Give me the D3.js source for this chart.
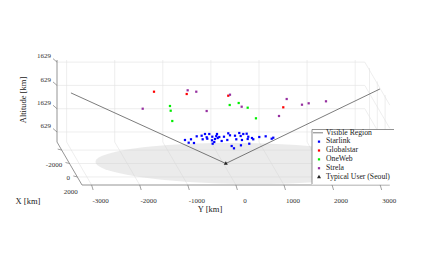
<!DOCTYPE html>
<html>
<head>
<meta charset="utf-8">
<script src="https://cdn.jsdelivr.net/npm/d3@7"></script>
<style>
  body { margin: 0; background: #fff; }
  svg { display: block; font-family: "Liberation Serif", "Times New Roman", serif; }
</style>
</head>
<body>
<svg id="chart" width="436" height="255"></svg>
<script>
// axis ticks
const xTicks = [-2000, 0, 2000];
const yTicks = [-3000, -2000, -1000, 0, 1000, 2000, 3000];
const zTicks = [629, 1629, 2629, 3629];
const zTickLabels = ["629", "1629", "629", "1629"];

// satellites, [Y km, altitude km]
const starlink = [
    [-383, 1466], [-294, 1466], [-133, 1466], [101, 1496], [330, 1509], [413, 1466], [484, 1479],
    [-555, 1367], [-452, 1393], [-348, 1325], [-231, 1350], [-148, 1380], [-86, 1337], [12, 1350],
    [137, 1410], [241, 1393], [359, 1380], [517, 1350], [594, 1294], [746, 1337], [879, 1367],
    [-799, 1209], [-674, 1239], [-431, 1239], [-335, 1264], [-237, 1196], [-175, 1252], [-119, 1294],
    [81, 1209], [268, 1239], [386, 1209], [505, 1252], [621, 1239], [1004, 1264], [1037, 1307],
    [-722, 1093], [-612, 1080], [-223, 1050], [-36, 1166], [538, 1050], [365, 981], [172, 951],
    [220, 852], [-190, 1123]
];
const globalstar = [[-1443, 3282], [-763, 3183], [101, 3110], [1245, 2612]];
const oneweb = [
    [-1111, 2668], [-1096, 2466], [-1063, 2024], [131, 2711], [318, 2797], [505, 2595], [677, 2140]
];
const strela = [
    [-1678, 2552], [-743, 3342], [-564, 3282], [-348, 2453], [137, 3153], [380, 2638],
    [1316, 2968], [1156, 2239], [1634, 2724], [1773, 2784], [2133, 2870]
];
const user = [[50, 200]];
const visibleRegion = [[-3170, 3230], [50, 200], [3255, 3400]];
const coverageCenter = [400, 200];
const coverageRadius = 3050;

const xLim = [-3200, 3200];
const yLim = [-3200, 3200];
const zLim = [200, 3720];

const svg = d3.select("#chart");

const yScale = d3.scaleLinear().domain(yLim).range([57, 364.8]);
const zScale = d3.scaleLinear().domain(zLim).range([142, 60]);
const depth = d3.scaleLinear().domain(xLim).range([0, 1]);
const depthVec = [25, 43];

/**
 * project()
 * @description maps a point in km to the screen, X goes toward the viewer
 */
function project(x, y, z) {
    const t = depth(x);
    return [yScale(y) + t * depthVec[0], zScale(z) + t * depthVec[1]];
}

function seg(layer, a, b, stroke, width) {
    const p = project(...a), q = project(...b);
    layer.append("line")
        .attr("x1", p[0]).attr("y1", p[1])
        .attr("x2", q[0]).attr("y2", q[1])
        .style("stroke", stroke)
        .style("stroke-width", width);
}

// grid on the three back planes
const grid = svg.append("g");
const gridColor = "#e3e3e3";
zTicks.forEach(z => {
    seg(grid, [xLim[0], yLim[0], z], [xLim[0], yLim[1], z], gridColor, 0.6);
    seg(grid, [xLim[0], yLim[1], z], [xLim[1], yLim[1], z], gridColor, 0.6);
});
yTicks.forEach(y => {
    seg(grid, [xLim[0], y, zLim[0]], [xLim[0], y, zLim[1]], gridColor, 0.6);
    seg(grid, [xLim[0], y, zLim[0]], [xLim[1], y, zLim[0]], gridColor, 0.6);
});
xTicks.forEach(x => {
    seg(grid, [x, yLim[1], zLim[0]], [x, yLim[1], zLim[1]], gridColor, 0.6);
    seg(grid, [x, yLim[0], zLim[0]], [x, yLim[1], zLim[0]], gridColor, 0.6);
});

// coverage disk on the ground
const disk = d3.range(0, 361, 4).map(a => {
    const r = a * Math.PI / 180;
    return project(coverageRadius * Math.sin(r), coverageCenter[0] + coverageRadius * Math.cos(r), coverageCenter[1]);
});
svg.append("path")
    .attr("d", d3.line()(disk) + "Z")
    .style("fill", "#cfcfcf")
    .style("fill-opacity", 0.42);

// axes
const axes = svg.append("g");
const axisColor = "#7a7a7a";
seg(axes, [xLim[0], yLim[0], zLim[0]], [xLim[0], yLim[0], zLim[1]], axisColor, 0.8);
seg(axes, [xLim[0], yLim[0], zLim[0]], [xLim[1], yLim[0], zLim[0]], axisColor, 0.8);
seg(axes, [xLim[1], yLim[0], zLim[0]], [xLim[1], yLim[1], zLim[0]], axisColor, 0.8);

yTicks.forEach(y => {
    const p = project(xLim[1], y, zLim[0]);
    axes.append("line")
        .attr("x1", p[0]).attr("y1", p[1])
        .attr("x2", p[0] + 1.5).attr("y2", p[1] + 5)
        .style("stroke", axisColor).style("stroke-width", 0.7);
    axes.append("text")
        .attr("x", p[0] + 9).attr("y", p[1] + 16)
        .attr("text-anchor", "middle").attr("dominant-baseline", "middle")
        .style("font-size", "7px").style("fill", "#333")
        .text(y);
});

xTicks.forEach(x => {
    const p = project(x, yLim[0], zLim[0]);
    axes.append("line")
        .attr("x1", p[0]).attr("y1", p[1])
        .attr("x2", p[0] - 4).attr("y2", p[1] - 1)
        .style("stroke", axisColor).style("stroke-width", 0.7);
    axes.append("text")
        .attr("x", p[0] + 0.5).attr("y", p[1] + 15)
        .attr("text-anchor", "end").attr("dominant-baseline", "middle")
        .style("font-size", "7px").style("fill", "#333")
        .text(x);
});

zTicks.forEach((z, i) => {
    const p = project(xLim[0], yLim[0], z);
    axes.append("line")
        .attr("x1", p[0]).attr("y1", p[1])
        .attr("x2", p[0] - 4).attr("y2", p[1] - 3.5)
        .style("stroke", axisColor).style("stroke-width", 0.7);
    axes.append("text")
        .attr("x", p[0] - 6).attr("y", p[1] - 5.5)
        .attr("text-anchor", "end").attr("dominant-baseline", "middle")
        .style("font-size", "7px").style("fill", "#333")
        .text(zTickLabels[i]);
});

// axis titles
svg.append("text")
    .attr("transform", "translate(24,100) rotate(-90)")
    .attr("text-anchor", "middle").attr("dominant-baseline", "middle")
    .style("font-size", "8.5px").style("fill", "#222")
    .text("Altitude [km]");
svg.append("text")
    .attr("x", 28).attr("y", 202)
    .attr("text-anchor", "middle").attr("dominant-baseline", "middle")
    .style("font-size", "8.5px").style("fill", "#222")
    .text("X [km]");
svg.append("text")
    .attr("x", 210).attr("y", 210)
    .attr("text-anchor", "middle").attr("dominant-baseline", "middle")
    .style("font-size", "8.5px").style("fill", "#222")
    .text("Y [km]");

// visible region edges
svg.append("path")
    .attr("d", d3.line()(visibleRegion.map(d => project(0, d[0], d[1]))))
    .style("fill", "none")
    .style("stroke", "#444")
    .style("stroke-width", 0.7);

// satellites
const series = [
    { name: "Starlink", data: starlink, color: "#0000ff", shape: d3.symbolSquare, size: 5 },
    { name: "Globalstar", data: globalstar, color: "#ff0000", shape: d3.symbolSquare, size: 5 },
    { name: "OneWeb", data: oneweb, color: "#00ee00", shape: d3.symbolSquare, size: 5 },
    { name: "Strela", data: strela, color: "#9630a0", shape: d3.symbolSquare, size: 5 },
    { name: "Typical User (Seoul)", data: user, color: "#222", shape: d3.symbolTriangle, size: 7 }
];

series.forEach(s => {
    svg.append("g").selectAll("path")
        .data(s.data)
        .join("path")
        .attr("transform", d => "translate(" + project(0, d[0], d[1]) + ")")
        .attr("d", d3.symbol(s.shape, s.size))
        .style("fill", s.color);
});

// legend
const legend = svg.append("g");
legend.append("rect")
    .attr("x", 312).attr("y", 129.5)
    .attr("width", 84).attr("height", 55)
    .style("fill", "#fff");
legend.append("path")
    .attr("d", "M312,184V129.5H394")
    .style("fill", "none")
    .style("stroke", "#666")
    .style("stroke-width", 0.7);

const rowY = i => 132.8 + i * 8.85;
legend.append("line")
    .attr("x1", 313).attr("y1", rowY(0))
    .attr("x2", 323).attr("y2", rowY(0))
    .style("stroke", "#444").style("stroke-width", 0.7);
legend.append("text")
    .attr("x", 326).attr("y", rowY(0))
    .attr("dominant-baseline", "middle")
    .style("font-size", "7.7px").style("fill", "#222")
    .text("Visible Region");

series.forEach((s, i) => {
    legend.append("path")
        .attr("transform", "translate(319," + rowY(i + 1) + ")")
        .attr("d", d3.symbol(s.shape, s.size))
        .style("fill", s.color);
    legend.append("text")
        .attr("x", 326).attr("y", rowY(i + 1))
        .attr("dominant-baseline", "middle")
        .style("font-size", "7.7px").style("fill", "#222")
        .text(s.name);
});
</script>
</body>
</html>
